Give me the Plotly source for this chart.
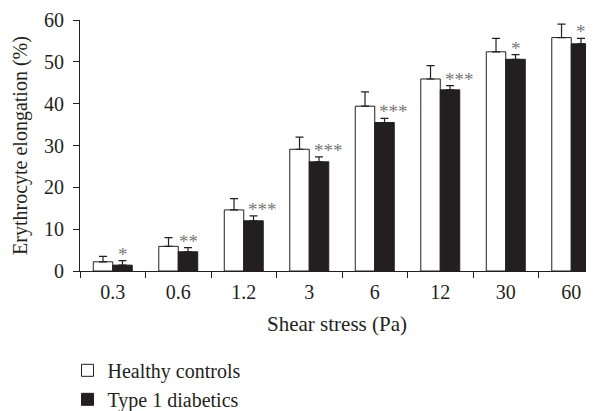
import plotly.graph_objects as go

categories = ["0.3", "0.6", "1.2", "3", "6", "12", "30", "60"]
healthy = [2.2, 5.9, 14.6, 29.1, 39.4, 45.9, 52.4, 55.8]
healthy_err = [1.3, 2.1, 2.7, 2.9, 3.4, 3.2, 3.2, 3.2]
diabetic = [1.4, 4.6, 12.0, 26.1, 35.5, 43.3, 50.6, 54.3]
diabetic_err = [1.1, 1.0, 1.2, 1.2, 1.0, 1.0, 1.1, 1.3]
stars = ["*", "**", "***", "***", "***", "***", "*", "*"]

FONT = "Liberation Serif"
TXT = "#231f20"

fig = go.Figure()
fig.add_trace(go.Bar(
    x=categories, y=healthy, name="Healthy controls",
    marker=dict(color="white", line=dict(color="#231f20", width=1)),
    error_y=dict(type="data", array=healthy_err, arrayminus=[0]*8, symmetric=False,
                 color="#231f20", thickness=1.2, width=4),
))
fig.add_trace(go.Bar(
    x=categories, y=diabetic, name="Type 1 diabetics",
    marker=dict(color="#231f20", line=dict(color="#231f20", width=1)),
    error_y=dict(type="data", array=diabetic_err, arrayminus=[0]*8, symmetric=False,
                 color="#231f20", thickness=1.2, width=4),
))

for i, (v, e, s) in enumerate(zip(diabetic, diabetic_err, stars)):
    fig.add_annotation(
        x=i, y=v + e, text=s, showarrow=False,
        xref="x", yref="y", yanchor="bottom",
        xshift=19 if len(s) == 3 else 10, yshift=-6,
        font=dict(family=FONT, size=19, color="#777777"),
    )

fig.update_layout(
    width=586, height=403,
    margin=dict(l=72, r=0, t=12, b=140, autoexpand=False),
    paper_bgcolor="white", plot_bgcolor="white",
    barmode="group", bargap=0.405, bargroupgap=0,
    font=dict(family=FONT, size=20, color=TXT),
    showlegend=True,
    legend=dict(x=-0.0243, xanchor="left", y=-0.318, yanchor="top",
                orientation="v", font=dict(family=FONT, size=20, color=TXT),
                bgcolor="rgba(0,0,0,0)", tracegroupgap=0),
    xaxis=dict(type="category", range=[-0.5, 7.347], showline=True, linecolor=TXT,
               linewidth=1, ticks="outside", tickson="boundaries", ticklen=6,
               tickcolor=TXT, showgrid=False, zeroline=False, automargin=False,
               ticklabelstandoff=3,
               tickfont=dict(family=FONT, size=20, color=TXT),
               title=dict(text="Shear stress (Pa)", standoff=14,
                          font=dict(family=FONT, size=21, color=TXT))),
    yaxis=dict(range=[0, 60], dtick=10, showline=True, linecolor=TXT, linewidth=1,
               ticks="outside", ticklen=6, tickcolor=TXT, showgrid=False,
               zeroline=False, automargin=False, ticklabelstandoff=5,
               ticklabeloverflow="allow",
               tickfont=dict(family=FONT, size=20, color=TXT),
               title=dict(text="Erythrocyte elongation (%)", standoff=11,
                          font=dict(family=FONT, size=20, color=TXT))),
)

fig.write_html("out.html")
